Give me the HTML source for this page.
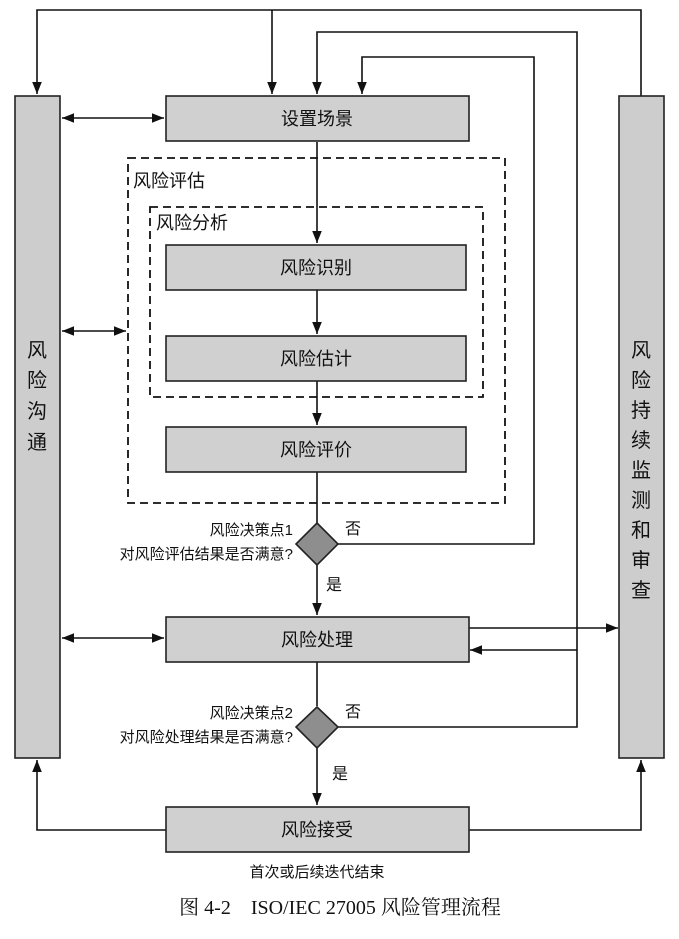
<!DOCTYPE html>
<html><head><meta charset="utf-8"><style>
body{margin:0;background:#fff}
svg{display:block}
text{font-family:"Liberation Sans","Noto Sans CJK SC",sans-serif;fill:#111}
</style></head><body>
<svg width="679" height="939" viewBox="0 0 679 939" xmlns="http://www.w3.org/2000/svg">
<defs>
<marker id="a" viewBox="0 0 10 10" refX="10" refY="5" markerWidth="7" markerHeight="7" orient="auto-start-reverse" markerUnits="userSpaceOnUse"><path d="M0,0 L10,5 L0,10 z" fill="#111"/></marker>
<marker id="b" viewBox="0 0 10 10" refX="10" refY="5" markerWidth="12" markerHeight="12" orient="auto-start-reverse" markerUnits="userSpaceOnUse"><path d="M0,1 L10,5 L0,9 z" fill="#111"/></marker>
</defs>
<g fill="none" stroke="#111" stroke-width="1.6">
<!-- top loops -->
<polyline points="641,96 641,10 37,10 37,94" marker-end="url(#b)"/>
<line x1="272" y1="10" x2="272" y2="94" marker-end="url(#b)"/>
<polyline points="337,544 577,544 577,32 317,32 317,94" marker-end="url(#b)" style="display:none"/>
<polyline points="337,727 577,727 577,32 317,32 317,94" marker-end="url(#b)"/>
<polyline points="337,544 534,544 534,57 362,57 362,94" marker-end="url(#b)"/>
<line x1="577" y1="650" x2="470" y2="650" marker-end="url(#b)"/>
<line x1="469" y1="628" x2="618" y2="628" marker-end="url(#b)"/>
<!-- main flow -->
<line x1="317" y1="142" x2="317" y2="243" marker-end="url(#b)"/>
<line x1="317" y1="290" x2="317" y2="334" marker-end="url(#b)"/>
<line x1="317" y1="381" x2="317" y2="425" marker-end="url(#b)"/>
<line x1="317" y1="472" x2="317" y2="523"/>
<line x1="317" y1="565" x2="317" y2="615" marker-end="url(#b)"/>
<line x1="317" y1="662" x2="317" y2="706"/>
<line x1="317" y1="748" x2="317" y2="805" marker-end="url(#b)"/>
<!-- double arrows left -->
<line x1="62" y1="118" x2="164" y2="118" marker-start="url(#b)" marker-end="url(#b)"/>
<line x1="62" y1="331" x2="126" y2="331" marker-start="url(#b)" marker-end="url(#b)"/>
<line x1="62" y1="638" x2="164" y2="638" marker-start="url(#b)" marker-end="url(#b)"/>
<!-- acceptance returns -->
<polyline points="166,830 37,830 37,760" marker-end="url(#b)"/>
<polyline points="469,830 641,830 641,760" marker-end="url(#b)"/>
</g>
<!-- bars -->
<rect x="15" y="96" width="45" height="662" fill="#cdcdcd" stroke="#222" stroke-width="1.6"/>
<rect x="619" y="96" width="45" height="662" fill="#cdcdcd" stroke="#222" stroke-width="1.6"/>
<!-- dashed -->
<rect x="128" y="158" width="377" height="345" fill="none" stroke="#111" stroke-width="1.8" stroke-dasharray="8,5"/>
<rect x="150" y="207" width="333" height="190" fill="none" stroke="#111" stroke-width="1.8" stroke-dasharray="8,5"/>
<!-- boxes -->
<g fill="#d0d0d0" stroke="#222" stroke-width="1.6">
<rect x="166" y="96" width="303" height="45"/>
<rect x="166" y="245" width="300" height="45"/>
<rect x="166" y="336" width="300" height="45"/>
<rect x="166" y="427" width="300" height="45"/>
<rect x="166" y="617" width="303" height="45"/>
<rect x="166" y="807" width="303" height="45"/>
<polygon points="317,523 338,544 317,565 296,544" fill="#8e8e8e"/>
<polygon points="317,707 338,727 317,748 296,727" fill="#8e8e8e"/>
</g>
<g font-size="18" text-anchor="middle">
<text x="317" y="125">设置场景</text>
<text x="316" y="274">风险识别</text>
<text x="316" y="365">风险估计</text>
<text x="316" y="456">风险评价</text>
<text x="317" y="646">风险处理</text>
<text x="317" y="836">风险接受</text>
</g>
<g font-size="18">
<text x="133" y="187">风险评估</text>
<text x="156" y="229">风险分析</text>
</g>
<g font-size="20" text-anchor="middle">
<text x="37" y="357">风</text><text x="37" y="387">险</text><text x="37" y="418">沟</text><text x="37" y="449">通</text>
<text x="641" y="357">风</text><text x="641" y="387">险</text><text x="641" y="417">持</text><text x="641" y="447">续</text><text x="641" y="477">监</text><text x="641" y="507">测</text><text x="641" y="537">和</text><text x="641" y="567">审</text><text x="641" y="597">查</text>
</g>
<g font-size="15" text-anchor="end">
<text x="293" y="535">风险决策点1</text>
<text x="293" y="559">对风险评估结果是否满意?</text>
<text x="293" y="718">风险决策点2</text>
<text x="293" y="742">对风险处理结果是否满意?</text>
</g>
<g font-size="16">
<text x="345" y="534">否</text>
<text x="326" y="590">是</text>
<text x="345" y="717">否</text>
<text x="332" y="779">是</text>
</g>
<text x="317" y="877" font-size="15" text-anchor="middle">首次或后续迭代结束</text>
<text x="340" y="914" font-size="20" text-anchor="middle" style="font-family:'Liberation Serif','Noto Serif CJK SC',serif">图 4-2　ISO/IEC 27005 风险管理流程</text>
</svg>
</body></html>
